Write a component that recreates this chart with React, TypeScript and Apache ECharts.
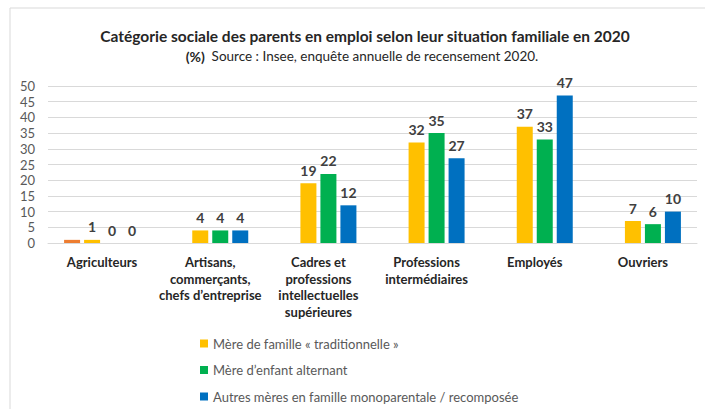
import React, { useEffect, useRef } from "react";
import * as echarts from "echarts";

const categories = [
  "Agriculteurs",
  "Artisans,\ncommerçants,\nchefs d’entreprise",
  "Cadres et\nprofessions\nintellectuelles\nsupérieures",
  "Professions\nintermédiaires",
  "Employés",
  "Ouvriers",
];
const seriesNames = [
  "Mère de famille « traditionnelle »",
  "Mère d’enfant alternant",
  "Autres mères en famille monoparentale / recomposée",
];
const extraValues: (number | string)[] = [1, "-", "-", "-", "-", "-"];
const traditionnelle = [1, 4, 19, 32, 37, 7];
const alternant = [0, 4, 22, 35, 33, 6];
const autres = [0, 4, 12, 27, 47, 10];
const yTicks = { min: 0, max: 50, interval: 5 };

const FONT = "Lato";

export default function App() {
  const ref = useRef<HTMLDivElement>(null);
  useEffect(() => {
    document.body.style.margin = "0";
    const chart = echarts.init(ref.current!, null, { renderer: "svg" });
    const label = {
      show: true,
      position: "top",
      distance: 6,
      color: "#404040",
      fontFamily: FONT,
      fontSize: 14,
      fontWeight: "bold",
    };
    const bar = (name: string, data: any[], color: string, withLabel: boolean) => ({
      name,
      type: "bar",
      data,
      barWidth: 16,
      barGap: "25%",
      itemStyle: { color },
      label: withLabel ? label : { show: false },
    });
    chart.setOption({
      animation: false,
      textStyle: { fontFamily: FONT },
      graphic: [
        {
          type: "rect",
          shape: { x: 10, y: 8, width: 705, height: 420 },
          style: { fill: "none", stroke: "#d9d9d9", lineWidth: 1 },
          silent: true,
        },
        {
          type: "text",
          x: 365,
          y: 36,
          style: {
            text: "Catégorie sociale des parents en emploi selon leur situation familiale en 2020",
            textAlign: "center",
            textVerticalAlign: "middle",
            fontFamily: FONT,
            fontSize: 15.5,
            fontWeight: "bold",
            fill: "#262626",
          },
        },
        {
          type: "text",
          x: 362,
          y: 56,
          style: {
            text: "{b|(%)}  {r|Source : Insee, enquête annuelle de recensement 2020.}",
            textAlign: "center",
            textVerticalAlign: "middle",
            rich: {
              b: { fontFamily: FONT, fontSize: 14, fontWeight: "bold", fill: "#262626" },
              r: { fontFamily: FONT, fontSize: 13.5, fill: "#262626" },
            },
          },
        },
      ],
      legend: {
        data: seriesNames,
        orient: "vertical",
        left: 200,
        top: 337,
        padding: 0,
        itemWidth: 8,
        itemHeight: 8,
        itemGap: 13.5,
        icon: "rect",
        textStyle: { fontFamily: FONT, fontSize: 13, color: "#595959" },
      },
      grid: { left: 48, right: 8, top: 86, bottom: 166 },
      xAxis: {
        type: "category",
        data: categories,
        axisTick: { show: false },
        axisLine: { lineStyle: { color: "#d9d9d9" } },
        axisLabel: {
          interval: 0,
          margin: 11,
          color: "#262626",
          fontFamily: FONT,
          fontSize: 13,
          fontWeight: "bold",
          lineHeight: 16.5,
        },
      },
      yAxis: {
        type: "value",
        min: yTicks.min,
        max: yTicks.max,
        interval: yTicks.interval,
        axisLine: { show: false },
        axisTick: { show: false },
        splitLine: { lineStyle: { color: "#d9d9d9" } },
        axisLabel: { margin: 13, color: "#595959", fontFamily: FONT, fontSize: 13 },
      },
      series: [
        bar("Orange", extraValues, "#ED7D31", false),
        bar(seriesNames[0], traditionnelle, "#FFC000", true),
        bar(seriesNames[1], alternant, "#00B050", true),
        bar(seriesNames[2], autres, "#0070C0", true),
      ],
    });
    return () => chart.dispose();
  }, []);
  return <div ref={ref} style={{ width: 705, height: 409 }} />;
}
